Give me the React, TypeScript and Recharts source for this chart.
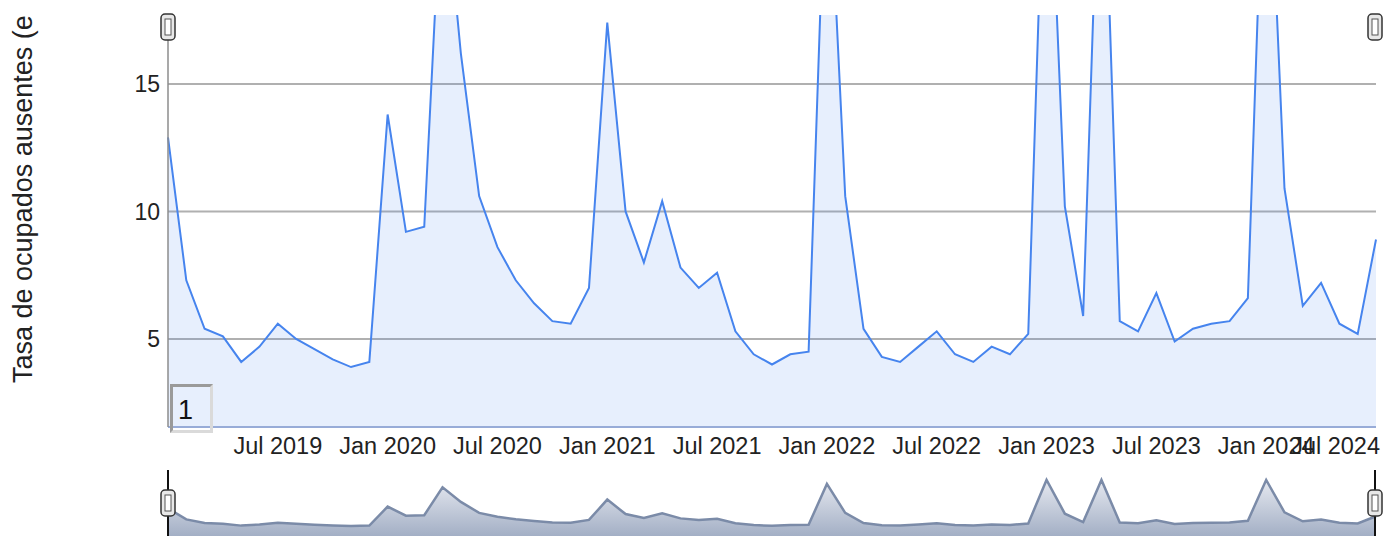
import React from 'react';
import { AreaChart, Area, XAxis, YAxis, CartesianGrid } from 'recharts';

// monthly series, Jan 2019 - Jul 2024
const MONTHS = [
  'Jan 2019', 'Feb 2019', 'Mar 2019', 'Apr 2019', 'May 2019', 'Jun 2019',
  'Jul 2019', 'Aug 2019', 'Sep 2019', 'Oct 2019', 'Nov 2019', 'Dec 2019',
  'Jan 2020', 'Feb 2020', 'Mar 2020', 'Apr 2020', 'May 2020', 'Jun 2020',
  'Jul 2020', 'Aug 2020', 'Sep 2020', 'Oct 2020', 'Nov 2020', 'Dec 2020',
  'Jan 2021', 'Feb 2021', 'Mar 2021', 'Apr 2021', 'May 2021', 'Jun 2021',
  'Jul 2021', 'Aug 2021', 'Sep 2021', 'Oct 2021', 'Nov 2021', 'Dec 2021',
  'Jan 2022', 'Feb 2022', 'Mar 2022', 'Apr 2022', 'May 2022', 'Jun 2022',
  'Jul 2022', 'Aug 2022', 'Sep 2022', 'Oct 2022', 'Nov 2022', 'Dec 2022',
  'Jan 2023', 'Feb 2023', 'Mar 2023', 'Apr 2023', 'May 2023', 'Jun 2023',
  'Jul 2023', 'Aug 2023', 'Sep 2023', 'Oct 2023', 'Nov 2023', 'Dec 2023',
  'Jan 2024', 'Feb 2024', 'Mar 2024', 'Apr 2024', 'May 2024', 'Jun 2024',
  'Jul 2024',
];

const ABSENCE_RATE = [
  12.9, 7.3, 5.4, 5.1, 4.1, 4.7, 5.6, 5.0, 4.6, 4.2, 3.9, 4.1,
  13.8, 9.2, 9.4, 23.7, 16.2, 10.6, 8.6, 7.3, 6.4, 5.7, 5.6, 7.0,
  17.4, 10.0, 8.0, 10.4, 7.8, 7.0, 7.6, 5.3, 4.4, 4.0, 4.4, 4.5,
  25.4, 10.6, 5.4, 4.3, 4.1, 4.7, 5.3, 4.4, 4.1, 4.7, 4.4, 5.2,
  27.4, 10.2, 5.9, 27.4, 5.7, 5.3, 6.8, 4.9, 5.4, 5.6, 5.7, 6.6,
  27.4, 10.9, 6.3, 7.2, 5.6, 5.2, 8.9,
];

const X_TICKS = [
  'Jul 2019', 'Jan 2020', 'Jul 2020', 'Jan 2021', 'Jul 2021', 'Jan 2022',
  'Jul 2022', 'Jan 2023', 'Jul 2023', 'Jan 2024', 'Jul 2024',
];
const Y_TICKS = [5, 10, 15];
const Y_TITLE = 'Tasa de ocupados ausentes (e';

const data = MONTHS.map((month, i) => ({ month, rate: ABSENCE_RATE[i] }));

const WIDTH = 1386;
const HEIGHT = 536;
const PLOT_LEFT = 168;
const PLOT_RIGHT = 1376;
const NAV_TOP = 470;
const FONT = 'Arial, "Liberation Sans", sans-serif';
const LINE = '#4684ee';

function XTick(props: any) {
  const { x, y, payload } = props;
  // last label is pushed inside the chart like the original
  const last = payload.value === X_TICKS[X_TICKS.length - 1];
  return (
    <text
      x={last ? x + 4 : x}
      y={y}
      dy="0.71em"
      textAnchor={last ? 'end' : 'middle'}
      fill="#222"
      fontSize={23.5}
      fontFamily={FONT}
    >
      {payload.value}
    </text>
  );
}

function AxisTitle() {
  return (
    <text
      x={32}
      y={383}
      transform="rotate(-90 32 383)"
      textAnchor="start"
      fill="#222"
      fontSize={27}
      fontFamily={FONT}
    >
      {Y_TITLE}
    </text>
  );
}

function Handle({ cx, top }: { cx: number; top: number }) {
  return (
    <g>
      <rect x={cx - 7} y={top} width={14} height={26} rx={4} fill="#e8e8e8" stroke="#333" strokeWidth={1.5} />
      <rect x={cx - 3} y={top + 5} width={6} height={16} fill="#fff" stroke="#555" strokeWidth={1} />
    </g>
  );
}

export default function App() {
  return (
    <div
      style={{
        position: 'absolute',
        left: 0,
        top: 0,
        width: WIDTH,
        height: HEIGHT,
        overflow: 'hidden',
        background: '#fff',
        fontFamily: FONT,
      }}
    >
      <div style={{ position: 'absolute', left: 0, top: 0 }}>
        <AreaChart width={WIDTH} height={470} data={data} margin={{ top: 15, right: 10, bottom: 13, left: 108 }}>
          <CartesianGrid vertical={false} syncWithTicks stroke="#b0b0b0" strokeWidth={2} />
          <XAxis
            dataKey="month"
            ticks={X_TICKS}
            interval={0}
            tickLine={false}
            tickSize={0}
            tickMargin={10}
            height={30}
            axisLine={{ stroke: '#98acd8', strokeWidth: 2 }}
            tick={<XTick />}
          />
          <YAxis
            type="number"
            domain={[1.55, 17.7]}
            allowDataOverflow
            ticks={Y_TICKS}
            tickLine={false}
            tickSize={0}
            tickMargin={8}
            width={60}
            axisLine={{ stroke: '#8c8c8c', strokeWidth: 1.5 }}
            tick={{ fill: '#222', fontSize: 23, fontFamily: FONT }}
            label={<AxisTitle />}
          />
          <Area
            type="linear"
            dataKey="rate"
            stroke={LINE}
            strokeWidth={2}
            fill={LINE}
            fillOpacity={0.13}
            dot={false}
            activeDot={false}
            isAnimationActive={false}
          />
        </AreaChart>
      </div>

      <div style={{ position: 'absolute', left: 0, top: NAV_TOP }}>
        <AreaChart width={WIDTH} height={HEIGHT - NAV_TOP} data={data} margin={{ top: 0, right: 10, bottom: 0, left: PLOT_LEFT }}>
          <defs>
            <linearGradient id="navFill" x1="0" y1="0" x2="0" y2="1">
              <stop offset="0%" stopColor="#e6e9f0" />
              <stop offset="100%" stopColor="#a3afc5" />
            </linearGradient>
          </defs>
          <XAxis dataKey="month" hide />
          <YAxis type="number" domain={[-1.2, 32.5]} hide />
          <Area
            type="linear"
            dataKey="rate"
            baseValue="dataMin"
            stroke="#7b8ba8"
            strokeWidth={2.5}
            fill="url(#navFill)"
            fillOpacity={1}
            dot={false}
            activeDot={false}
            isAnimationActive={false}
          />
        </AreaChart>
      </div>

      {/* range handles */}
      <svg width={WIDTH} height={HEIGHT} style={{ position: 'absolute', left: 0, top: 0, pointerEvents: 'none' }}>
        <line x1={PLOT_LEFT} x2={PLOT_LEFT} y1={NAV_TOP} y2={HEIGHT} stroke="#111" strokeWidth={2} />
        <line x1={PLOT_RIGHT - 1} x2={PLOT_RIGHT - 1} y1={NAV_TOP} y2={HEIGHT} stroke="#111" strokeWidth={2} />
        <Handle cx={PLOT_LEFT} top={14} />
        <Handle cx={PLOT_RIGHT - 1} top={14} />
        <Handle cx={PLOT_LEFT} top={490} />
        <Handle cx={PLOT_RIGHT - 1} top={490} />
      </svg>

      <div
        style={{
          position: 'absolute',
          left: 170,
          top: 384,
          width: 43,
          height: 49,
          borderTop: '3px solid #9a9a9a',
          borderLeft: '3px solid #9a9a9a',
          borderBottom: '3px solid #dadada',
          borderRight: '3px solid #dadada',
          fontSize: 27,
          lineHeight: '46px',
          paddingLeft: 5,
          boxSizing: 'border-box',
          color: '#111',
        }}
      >
        1
      </div>
    </div>
  );
}
